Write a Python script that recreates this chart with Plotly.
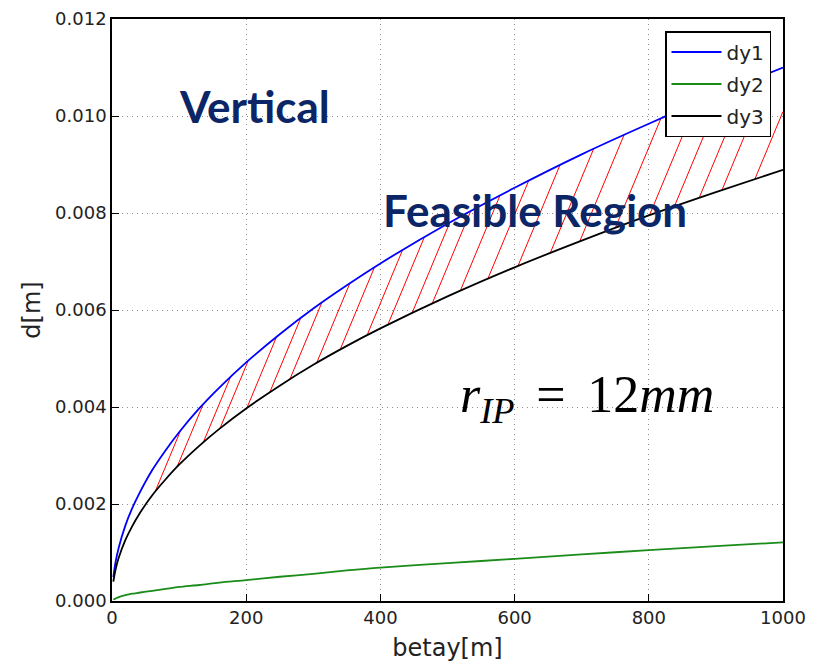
import numpy as np
import plotly.graph_objects as go

# ---- data ----
betay = [2, 5, 10, 20, 30, 40, 60, 80, 100, 130, 160, 200, 250, 300, 350, 400,
         500, 600, 700, 800, 900, 1000]
dy1 = [0.00049, 0.00078, 0.0011, 0.00156, 0.00191, 0.0022, 0.0027, 0.00311,
       0.00348, 0.00397, 0.0044, 0.00492, 0.0055, 0.00603, 0.00651, 0.00696,
       0.00778, 0.00852, 0.00921, 0.00984, 0.01044, 0.0110]
dy2 = [0.00003, 0.00005, 0.00008, 0.00012, 0.00015, 0.00017, 0.00021, 0.00025,
       0.00029, 0.00033, 0.00038, 0.00043, 0.0005, 0.00056, 0.00063, 0.00069,
       0.00078, 0.00087, 0.00096, 0.00105, 0.00113, 0.00121]
dy3 = [0.0004, 0.00063, 0.00089, 0.00126, 0.00154, 0.00178, 0.00218, 0.00251,
       0.00281, 0.0032, 0.00355, 0.00397, 0.00444, 0.00487, 0.00526, 0.00562,
       0.00628, 0.00688, 0.00743, 0.00795, 0.00843, 0.00889]

# x positions (on dy3) where the red hatch strokes start
hatch_x = [64, 97, 136, 161, 201, 235, 265, 305, 340, 380, 411, 447, 477, 519,
           560, 605, 653, 697, 750, 801, 838, 875, 909, 958]

x_ticks = [0, 200, 400, 600, 800, 1000]
y_ticks = [0.000, 0.002, 0.004, 0.006, 0.008, 0.010, 0.012]
y_tick_labels = ["0.000", "0.002", "0.004", "0.006", "0.008", "0.010", "0.012"]

# ---- geometry ----
W, H = 814, 667
ML, MR, MT, MB = 112, 31, 19, 66
PW, PH = W - ML - MR, H - MT - MB
XR, YR = (0, 1000), (0, 0.012)

# hatch strokes: fixed on-screen slope, from dy3 up to dy1
px_slope = 2.4
m = px_slope * (PW / (XR[1] - XR[0])) / (PH / (YR[1] - YR[0]))
hx, hy = [], []
bx = np.array(betay, float)
for x0 in hatch_x:
    y0 = float(np.interp(x0, bx, dy3))
    xs = np.linspace(x0, min(x0 + 400, XR[1]), 4000)
    yl = y0 + m * (xs - x0)
    yu = np.interp(xs, bx, dy1)
    hit = np.nonzero(yl >= yu)[0]
    i = hit[0] if len(hit) else len(xs) - 1
    hx += [x0, float(xs[i]), None]
    hy += [y0, float(yl[i]), None]

fig = go.Figure()
fig.add_trace(go.Scatter(x=hx, y=hy, mode="lines", line=dict(color="#ff0000", width=1),
                         showlegend=False, hoverinfo="skip"))
fig.add_trace(go.Scatter(x=betay, y=dy1, mode="lines", name="dy1", legendgroup="a",
                         line=dict(color="#0000ff", width=1.8, shape="spline", smoothing=0.8)))
fig.add_trace(go.Scatter(x=betay, y=dy2, mode="lines", name="dy2", legendgroup="b",
                         line=dict(color="#1a8c1a", width=1.8, shape="spline", smoothing=0.8)))
fig.add_trace(go.Scatter(x=betay, y=dy3, mode="lines", name="dy3", legendgroup="c",
                         line=dict(color="#000000", width=1.8, shape="spline", smoothing=0.8)))

def px(xp):
    return (xp - ML) / PW

def py(yp):
    return (H - MB - yp) / PH

navy = "#0b2566"
fig.add_annotation(x=px(254), y=py(106), xref="paper", yref="paper", text="<b>Vertical</b>",
                   showarrow=False, font=dict(family="Lato", size=44, color=navy),
                   xanchor="center", yanchor="middle")
fig.add_annotation(x=px(535), y=py(210), xref="paper", yref="paper",
                   text="<b>Feasible Region</b>",
                   showarrow=False, font=dict(family="Lato", size=44, color=navy),
                   xanchor="center", yanchor="middle")
fig.add_annotation(x=px(458), y=py(398), xref="paper", yref="paper",
                   text="<i>r</i><sub><i>IP</i></sub>&nbsp;&#8198;=&nbsp;&#8198;12<i>mm</i>",
                   showarrow=False, font=dict(family="Liberation Serif", size=52, color="#000"),
                   xanchor="left", yanchor="middle")

axis_common = dict(showline=True, linecolor="#000", linewidth=1.5, mirror=True,
                   ticks="inside", ticklen=7, tickwidth=1, tickcolor="#000",
                   showgrid=True, gridcolor="#8c8c8c", griddash="1px,4px", gridwidth=1.2,
                   zeroline=False, automargin=False,
                   tickfont=dict(family="DejaVu Sans", size=18, color="#222"))

fig.update_layout(
    width=W, height=H,
    margin=dict(l=ML, r=MR, t=MT, b=MB),
    paper_bgcolor="white", plot_bgcolor="white",
    xaxis=dict(range=list(XR), tickvals=x_ticks, title=dict(text="betay[m]", standoff=12,
               font=dict(family="DejaVu Sans", size=24, color="#222")), **axis_common),
    yaxis=dict(range=list(YR), tickvals=y_ticks, ticktext=y_tick_labels,
               title=dict(text="d[m]", standoff=8,
                          font=dict(family="DejaVu Sans", size=24, color="#222")),
               **axis_common),
    legend=dict(x=px(771), y=py(31), xanchor="right", yanchor="top",
                bgcolor="white", bordercolor="#000", borderwidth=1.5,
                font=dict(family="DejaVu Sans", size=20, color="#222"),
                tracegroupgap=3, itemwidth=50),
    showlegend=True,
)

fig.write_html("out.html", post_script="document.body.style.margin='0';",
               config={"displayModeBar": False})
